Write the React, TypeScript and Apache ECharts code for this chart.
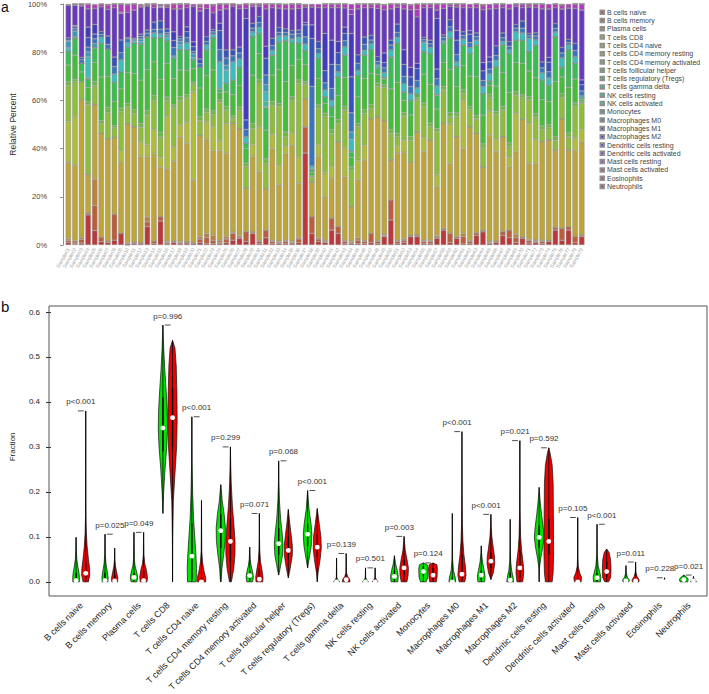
import React, { useEffect, useRef } from "react";
import * as echarts from "echarts";

// ---------- Panel a: CIBERSORT composition per sample (percent) ----------
const cellTypes = [
  "B cells naive", "B cells memory", "Plasma cells", "T cells CD8", "T cells CD4 naive",
  "T cells CD4 memory resting", "T cells CD4 memory activated", "T cells follicular helper",
  "T cells regulatory (Tregs)", "T cells gamma delta", "NK cells resting", "NK cells activated",
  "Monocytes", "Macrophages M0", "Macrophages M1", "Macrophages M2", "Dendritic cells resting",
  "Dendritic cells activated", "Mast cells resting", "Mast cells activated", "Eosinophils", "Neutrophils",
];

const sampleNames = Array.from({ length: 79 }, (_, i) => `Sample${String(i + 1).padStart(2, "0")}`);

const bCellsNaive = [1.0,0.3,0.8,12.5,6,1.4,1,2,4.8,0, 0.5,0.5,7.6,0.5,10,0.5,1,0.5,0.8,0.5, 1,0.5,0.5,0.5,1,2,2.8,1.5,4.8,0.5, 3,0.5,0.5,0.5,0.5,1,38.3,4.8,1.5,1, 6.2,4.8,0.5,0.5,0.5,0.5,1,0.5,3.5,10.4, 0.5,1,3.5,3.5,0.5,0.5,2.8,6.2,1,2.8, 0.5,0.5,4,5.5,0.5,1,4,3,1,2.8, 0.8,1,0.5,1.4,6.2,2,6.2,1,3.5];
const bCellsMemory = [0.8,0.5,1.5,0.6,10.4,1.8,0.5,10.8,0,0.5, 0.5,0.5,2,1,1.8,0.5,0.5,0.5,0.5,0.3, 1.5,2.5,1.5,0.5,1.5,2.8,0.5,4,0.5,1, 3.2,1,0.5,1,0.5,1.5,10.8,7,1,0.5, 4.8,2.8,1,0.5,1.5,1,3.8,1,0.5,8.3, 1,1,0.5,0.5,1,1,0.5,0.5,3.8,0.5, 3,1,1,0.5,0.5,0.5,1.5,3.2,2,0.5, 1,0.5,1,0.5,1,4.9,1.4,2.5,0.5];
const plasmaCells = [0.7,1.0,0.9,0,11,0,0,0,0,0.5, 0,0,2,0,0,0.5,0,0.5,0,0, 1,1.8,2,1,1,0.5,0.5,0,0,0.5, 0,0.5,0.5,0.5,0.5,0.5,0,0,0.5,0.5, 0,0,0.5,0.5,1,0.5,0,0.5,0.5,0, 0.5,0.5,0,0,0.5,0.5,0.5,0,0,0, 1.3,0.5,0,0,0.5,0,0,0,1.5,0, 0.5,0.5,0.5,0,0,0,0,0,0];
const tCellsCD8 = [31.8,31.4,57.2,16.2,31.1,43.1,42.8,31.8,29.5,49.5, 48.1,35.9,25.1,36.5,20.7,30.3,33.1,43.5,40.9,26.2, 42.1,38.8,35.4,37.4,34.5,45.2,44.6,18,31.4,28.4, 17.3,38,23.4,36,40,22.6,11.8,14.5,33.7,18, 16.7,35.3,26.4,14.5,24,33.3,47.8,51.2,47.4,16.6, 36,36,30.6,43,36.7,41.6,20.4,43.8,29.1,41.7, 35.2,47.1,41.3,26.5,44.1,37.2,39.5,26.3,34.2,48.6, 31.6,31.9,40.9,41.7,32.2,45.7,31.8,35.9,38.9];
const tCellsCD4Naive = [16.9,20,0,0,0,0,0,0,5,0, 0,6,5,10,4,22,6,5,8.8,36.6, 0,7.4,10,4,12.5,0,0,0,5,18.6, 0,6,8,3,5,11,0,0,5,10, 5,0,12,0,8,6,0,0,0,0, 3,5,0,0,6,0,5,0,16.6,0, 20,0,0,0,10,5,0,4,16,0, 16.6,10,0,0,0,0,0,5,5];
const tCellsCD4MemResting = [14.9,14.6,7.4,29.1,7.9,4.2,11,4,16,6.9, 5.5,6.2,12.2,12,8.5,6.5,16.1,10,10,3, 6.3,4,5,16.1,5.5,2,7.6,9,6.7,18, 10.4,12,24.5,4,13.5,30.4,6.2,2,15,23.2, 13.6,7.6,15.6,15,14.1,13.3,4.1,12.5,13.8,11, 4,10,9,13.2,12.7,5.5,18,13.8,2.8,8.3, 2.9,7,6,8,5.5,10.3,11,4.3,7.5,9, 9.7,9,5,5,4,8.9,5.5,13,11];
const tCellsCD4MemActivated = [1.5,1,0,1,1.6,1.2,2,1,1.5,1.5, 1.5,1.6,2,2,2,1.5,1.2,1.8,1.5,1, 1.5,1.3,1.5,1,1.5,1,1.4,1.5,2,1.6, 2,1.5,1.2,2,1.5,1.5,1,0.5,1.4,1.5, 1.5,1.7,1.5,1.5,1.2,1.5,1.8,1.5,1,1.5, 1.3,1.5,1.6,1,1.5,1.5,1.2,1.5,1.8,1.5, 1.5,1.4,1.5,1.7,1.5,1.3,1.5,1.6,1.5,1.2, 1.5,1.8,1.5,1.4,1.5,1.5,1.6,1.5,0.5];
const tCellsFollicular = [7,10,4,6,8,18,13,10,8,13, 15,18,17,14,22,14,11,11,10,5.5, 12,14,17,3,6,9,9,6,20,11, 12,11,14,21,13,8.5,7,1.5,11,4, 5.5,10,12,4,11,13,13,3.5,2.5,17, 21,5,9,1.5,12,16,8,10,18,11, 10,12.5,16,12,3.5,10.5,14,21,12,13, 10.5,15,11,9.5,23,7,19,10,1];
const tCellsTregs = [5.6,7,3.6,3.5,6,14,11.3,7.9,7.1,10.4, 12.6,15,13.5,10,17.4,9.5,8.3,8.5,8.5,3.7, 8.6,10.5,13.5,1.5,3.6,6,7.5,2.2,16,8.3, 9.5,8.3,11.4,17,9.5,6.7,5.9,1,8.3,2.8, 4.1,7.8,9.3,2.2,8.9,9.7,9.8,2.6,0.6,13.2, 16.2,3.5,6.1,0,9.3,12.9,5.8,7.9,13,8.2, 8.6,9.4,13.2,9,2,8,11.5,16.2,9.3,9.6, 8,13.3,8.1,6.8,18.5,4,15.6,6.5,0.5];
const tCellsGammaDelta = [0,0,0,0,0.3,0,0,0,0,0, 0,0,0,0,0,0,0,0,0,0, 0,0,0,0.4,0,0,0,0,0,0, 0.5,0,0,0,0,0,0,0,0,0, 0,0,0,0.3,0,0,0,0,0,0, 0,0,0,0,0,0,0.3,0,0,0, 0,0,0,0,0,0,0,0,0,0, 0,0,0,0,0,0,0,0,0];
const nkResting = [0,0,0,0.5,0,0,0,0,0,0, 0,0,0,0,0,0,0,0,0,0, 0,0,0,0,0,0,0,0,0,0, 2,0,0,0,0,0,0,0.4,0,0, 0,0,0,0,0,0,0,0,0,0, 0,0,0,0,0,0,0,0,0,0, 0,0,0,0,0,0,0,0,0,0, 0,0,0,0,0,0,0,0,0];
const nkActivated = [1.5,0.5,0,8.7,0,2.5,0,3.5,4.9,2, 0.8,1,0,2,1.5,1.5,1,2,3,1, 0,2,1.4,11,5.5,7.5,3.5,2.8,2,2.5, 4,2,2.5,2,1.5,2.5,2.7,1.2,2,2.8, 2.6,2,3.5,5,2,2,2.5,1.4,2,3, 2.5,3.5,2.8,2.5,4,2.5,3.5,1,2.7,2, 2.5,2.5,2,3,2.9,2.7,1.5,1.5,3.5,3, 5.6,2.5,3,3,2,4,2,2.8,1];
const monocytes = [2.7,2.5,0,2,1.5,0,0,0,0,0, 0.6,1.1,0,0,0,1,0,1.5,0,1.5, 0,0,0,0,2,0,0,0,0,0, 3,0,0,0,0,0,0,0,0,0, 0,0,0,3,0,0,0,0,0,0, 0,0,0,0,0,0,0,0,0,0, 0,0,0,0,0,0,0,0,0,0, 0,0,0,0,0,0,0,0,0];
const macrophagesM0 = [0.5,1,1.5,2,2,1.2,2,3,3,1.5, 0.7,1.1,1.5,1.5,2,1,3.5,1,2,1, 1.5,1.5,1,5,3,2.5,2.5,3,1.5,2, 4,2,1.5,1.5,2,1.5,3,33.2,2,3, 5,3,2.5,8,3,2.5,1.5,1.5,2,2, 2,3,3,3,1,1.5,3,1.5,2,3, 1.5,2,1.5,2.5,2,2,1.5,1.5,1.5,2, 1,1.5,2,2.5,1.5,2,1,2.5,2];
const macrophagesM1 = [1,0.8,1,4,2,1.2,3.5,4,5.3,0.6, 0,1,1.3,3,3.5,1.5,3,1,2.5,2, 2,2,1,8,3.4,2.5,2.5,3.9,2,2.5, 7,3,2,1.5,1.5,1.5,5,20,3,5, 10,5,3,15,3.5,3,2,2,2.2,2, 3.5,5,4,5,1,1.5,4,1,3,6, 1.5,3.5,1.5,4,3,4,2,1.9,1.5,3, 1,1.3,2.5,4,2,2.3,1.3,3,2.6];
const macrophagesM2 = [0,0.5,0,4.3,4,0,0,0,0,0, 0,0,0,0,0,0,3.5,0,2,2, 0,0,0,3,0,0,0,42.1,0,0, 5,0,0,0,0,0,1,5.6,0,15.5, 10,4.6,2.6,18,0,0,0,0,4,0, 0,6,4,2.2,0,0,21,0,0,4, 0,1.5,0,3.5,2,0,0,0,0,0, 0,0,0,2,0,0,0,0,2];
const dendriticResting = [13.4,8.4,21.3,7.6,6.7,10.3,11.1,20.5,11,10.4, 11.7,11.3,10,6,5.5,9,9.5,11.5,8,14.7, 20,11.7,7,5.5,17,18,16,4.2,7,4.2, 15.6,12.7,8,8.3,9,9,6.3,7.5,14,10.7, 13.5,14.1,8,8,19,12.2,11.5,20,18,13, 7,17,24,19.3,12.3,13.5,3.5,11,5.5,9.8, 10,9.5,10.5,22,20,15.5,10.5,13.6,7.5,5.5, 11,10.5,22,20,6.6,16,13,14.5,29];
const dendriticActivated = [0,0.3,0,0,0,0,0,0,0.5,0, 0,0,0,0,0.5,0,0,0,0,0, 0,0,0,0,0,0,0,0,0,0, 0,0,0,0,0,0,0,0,0,0, 0,0,0,2,0,0,0,0,0,0, 0,0,0,0,0,0,0,0,0,0, 0,0,0,0,0,0,0,0,0,0, 0,0,0,0,0,0,0,0,0];
const mastResting = [0.3,0,0.8,1.8,1.5,0,1.8,1.5,3.4,3.2, 2.5,0,0,1.5,0.6,1,0,2,1.5,1, 1.5,1.8,3.2,2.5,2,1,1.5,1.8,1,1, 2,1.5,1.7,1.7,2,1.8,1,1.2,1.5,1.5, 1.5,1.5,1.6,2.3,2,1.5,1.5,1.8,2,2, 1.3,2,2,3,1.5,1.5,2.5,1.8,1,1.2, 1.5,1.5,1.5,2,2,1.8,1.5,2,1,1.5, 1.2,1.5,2,2.1,1.5,1.7,1.7,1.8,2.5];
const mastActivated = [0.3,0.2,0,0.2,0.3,1.1,0,0,0,0, 0,0.8,0.8,0,0,0,2,0,0,0, 1,0,0,0,0,0,0,0,0,0, 0,0,0,0,0,0,0,0,0,0, 0,0,0,0,0,0,0,0,0,0, 0,0,0,2.3,0,0,0,0,0,0, 0,0,0,0,0,0,0,0,0,0, 0,0,0,0,0,0,0,0,0];
const eosinophils = [0,0,0,0,0,0,0,0,0,0.3, 0,0,0,0,0,0,0,0,0,0, 0,0,0,0,0,0,0,0,0,0, 0,0,0,0.3,0,0,0,0,0,0, 0,0,0,0,0,0,0,0,0,0, 0,0,0,0,0,0,0,0,0,0, 0,0,0,0,0,0,0,0,0,0, 0,0,0,0,0,0,0,0,0];
const neutrophils = [0,0,0,0,0,0,0.4,0,0,0, 0,0.4,0,0,0.4,0.4,0,0,0,0, 0.4,0,0.4,0,0,0,0.4,0,0,0, 0,0,0,0,0,0,0.4,0,0,0, 0,0,0,0,0,0,0,0,0.4,0, 0,0,0.4,0,0,0,0,0,0,0, 0,0,0,0.4,0,0,0,0,0,0, 0,0,0,0,0,0.4,0,0,0];

const compositions = [
  bCellsNaive, bCellsMemory, plasmaCells, tCellsCD8, tCellsCD4Naive, tCellsCD4MemResting,
  tCellsCD4MemActivated, tCellsFollicular, tCellsTregs, tCellsGammaDelta, nkResting, nkActivated,
  monocytes, macrophagesM0, macrophagesM1, macrophagesM2, dendriticResting, dendriticActivated,
  mastResting, mastActivated, eosinophils, neutrophils,
];

// ---------- Panel b: violin profiles [fraction, half width] ----------
const normalViolins = [
  [[0,0.34],[0.01,0.35],[0.02,0.3],[0.035,0.18],[0.05,0.08],[0.07,0.03],[0.099,0]],
  [[0,0.3],[0.01,0.32],[0.025,0.22],[0.04,0.1],[0.06,0.03],[0.106,0]],
  [[0,0.3],[0.01,0.38],[0.02,0.3],[0.035,0.12],[0.05,0.04],[0.11,0]],
  [[0.152,0],[0.2,0.08],[0.25,0.22],[0.3,0.4],[0.34,0.48],[0.38,0.45],[0.42,0.35],[0.47,0.2],[0.52,0.08],[0.571,0]],
  [[0,0.45],[0.03,0.48],[0.06,0.42],[0.1,0.3],[0.14,0.18],[0.2,0.08],[0.26,0.03],[0.367,0]],
  [[0,0.03],[0.03,0.12],[0.06,0.3],[0.09,0.45],[0.12,0.48],[0.15,0.35],[0.18,0.15],[0.216,0]],
  [[0,0.3],[0.01,0.38],[0.02,0.32],[0.035,0.15],[0.05,0.05],[0.077,0]],
  [[0.015,0],[0.03,0.15],[0.06,0.4],[0.085,0.45],[0.11,0.35],[0.14,0.2],[0.18,0.08],[0.22,0.02],[0.269,0]],
  [[0.031,0],[0.05,0.15],[0.08,0.38],[0.105,0.45],[0.13,0.35],[0.16,0.15],[0.203,0]],
  [[0,0.3],[0.004,0.15],[0.01,0.02],[0.053,0]],
  [[0,0.3],[0.004,0.15],[0.01,0.02],[0.031,0]],
  [[0,0.35],[0.012,0.4],[0.025,0.3],[0.04,0.12],[0.058,0]],
  [[0,0.3],[0.01,0.45],[0.03,0.48],[0.038,0.4],[0.042,0]],
  [[0,0.35],[0.01,0.3],[0.025,0.12],[0.05,0.03],[0.1,0.005],[0.152,0]],
  [[0,0.35],[0.012,0.4],[0.025,0.3],[0.045,0.12],[0.065,0.03],[0.08,0]],
  [[0,0.35],[0.01,0.3],[0.025,0.15],[0.045,0.05],[0.08,0.01],[0.139,0]],
  [[0,0],[0.03,0.03],[0.05,0.15],[0.08,0.4],[0.1,0.5],[0.12,0.42],[0.15,0.25],[0.18,0.1],[0.21,0]],
  [[0,0.2],[0.002,0]],
  [[0,0.35],[0.01,0.4],[0.02,0.3],[0.035,0.12],[0.06,0.03],[0.128,0]],
  [[0,0.3],[0.004,0.35],[0.01,0.15],[0.02,0.03],[0.036,0]],
  [[0,0.12],[0.004,0]],
  [[0,0.4],[0.006,0.45],[0.01,0.3],[0.015,0]],
];
const tumorViolins = [
  [[0,0.28],[0.015,0.42],[0.03,0.4],[0.05,0.28],[0.08,0.14],[0.11,0.06],[0.15,0.02],[0.25,0.005],[0.38,0]],
  [[0,0.3],[0.008,0.33],[0.02,0.22],[0.035,0.08],[0.05,0.02],[0.075,0]],
  [[0,0.35],[0.01,0.4],[0.025,0.3],[0.04,0.12],[0.06,0.03],[0.11,0]],
  [[0,0],[0.1,0.02],[0.18,0.08],[0.24,0.25],[0.3,0.42],[0.36,0.48],[0.42,0.45],[0.48,0.38],[0.52,0.25],[0.537,0]],
  [[0,0.45],[0.01,0.42],[0.025,0.25],[0.045,0.1],[0.07,0.03],[0.181,0]],
  [[0,0.1],[0.03,0.35],[0.06,0.47],[0.09,0.48],[0.13,0.35],[0.17,0.2],[0.22,0.08],[0.26,0.03],[0.3,0]],
  [[0,0.35],[0.01,0.38],[0.025,0.28],[0.045,0.12],[0.07,0.04],[0.1,0.01],[0.152,0]],
  [[0.009,0],[0.03,0.2],[0.06,0.42],[0.08,0.42],[0.1,0.32],[0.13,0.15],[0.161,0]],
  [[0,0],[0.02,0.08],[0.05,0.3],[0.075,0.42],[0.1,0.38],[0.13,0.2],[0.163,0]],
  [[0,0.4],[0.006,0.35],[0.012,0.15],[0.02,0.03],[0.063,0]],
  [[0,0.3],[0.004,0.15],[0.01,0.02],[0.031,0]],
  [[0,0.3],[0.015,0.42],[0.03,0.45],[0.05,0.3],[0.07,0.12],[0.101,0]],
  [[0,0.35],[0.01,0.42],[0.03,0.45],[0.038,0.4],[0.042,0]],
  [[0,0.3],[0.015,0.42],[0.035,0.35],[0.06,0.2],[0.09,0.1],[0.13,0.04],[0.2,0.01],[0.334,0]],
  [[0.005,0],[0.02,0.25],[0.04,0.4],[0.055,0.38],[0.075,0.25],[0.1,0.1],[0.12,0.04],[0.15,0]],
  [[0,0.3],[0.02,0.4],[0.04,0.35],[0.07,0.18],[0.1,0.08],[0.15,0.03],[0.2,0.01],[0.314,0]],
  [[0,0.35],[0.02,0.45],[0.06,0.5],[0.15,0.48],[0.22,0.45],[0.26,0.35],[0.285,0.15],[0.298,0]],
  [[0,0.35],[0.01,0.4],[0.02,0.2],[0.035,0.05],[0.06,0.01],[0.143,0]],
  [[0,0.2],[0.01,0.42],[0.03,0.45],[0.05,0.4],[0.065,0.25],[0.073,0]],
  [[0,0.35],[0.005,0.35],[0.012,0.15],[0.022,0.03],[0.044,0]],
  [[0,0.15],[0.002,0.05],[0.009,0]],
  [[0,0.3],[0.004,0.2],[0.008,0.03],[0.012,0]],
];
// [q1, median, q3]
const normalStats = [
  [0,0.003,0.02],[0,0.003,0.02],[0.003,0.01,0.02],[0.29,0.342,0.41],[0.005,0.057,0.13],
  [0.075,0.114,0.15],[0.003,0.014,0.025],[0.06,0.085,0.12],[0.08,0.106,0.13],[0,0,0.002],
  [0,0,0],[0.003,0.012,0.025],[0.012,0.023,0.035],[0,0,0.01],[0.004,0.015,0.025],
  [0,0.004,0.02],[0.075,0.099,0.125],[0,0,0],[0.002,0.009,0.02],[0,0.002,0.005],[0,0,0],[0,0.005,0.01],
];
const tumorStats = [
  [0.005,0.019,0.045],[0,0.002,0.015],[0,0.003,0.025],[0.3,0.365,0.43],[0,0,0.01],
  [0.045,0.09,0.14],[0,0.006,0.03],[0.05,0.07,0.1],[0.055,0.077,0.105],[0,0.005,0.01],
  [0,0,0],[0.015,0.031,0.05],[0.004,0.015,0.03],[0.004,0.017,0.06],[0.03,0.046,0.065],
  [0.01,0.031,0.07],[0.06,0.09,0.14],[0,0,0.005],[0.01,0.023,0.045],[0,0.002,0.006],[0,0,0.002],[0,0.002,0.005],
];
const pLabels = [
  "p<0.001","p=0.025","p=0.049","p=0.996","p<0.001","p=0.299","p=0.071","p=0.068","p<0.001","p=0.139",
  "p=0.501","p=0.003","p=0.124","p<0.001","p<0.001","p=0.021","p=0.592","p=0.105","p<0.001","p=0.011",
  "p=0.228","p=0.021",
];

const FONT = "'Liberation Sans', Arial, Helvetica, sans-serif";
const NORMAL_COLOR = "#00e400";
const TUMOR_COLOR = "#f00000";

function hsvHex(h: number, s: number, v: number): string {
  const i = Math.floor(h * 6);
  const f = h * 6 - i;
  const p = v * (1 - s);
  const q = v * (1 - f * s);
  const t = v * (1 - (1 - f) * s);
  let r = 0, g = 0, b = 0;
  switch (i % 6) {
    case 0: r = v; g = t; b = p; break;
    case 1: r = q; g = v; b = p; break;
    case 2: r = p; g = v; b = t; break;
    case 3: r = p; g = q; b = v; break;
    case 4: r = t; g = p; b = v; break;
    default: r = v; g = p; b = q; break;
  }
  const hx = (x: number) => Math.round(x * 255).toString(16).padStart(2, "0");
  return "#" + hx(r) + hx(g) + hx(b);
}

export default function App() {
  const ref = useRef<HTMLDivElement>(null);

  useEffect(() => {
    document.body.style.margin = "0";
    if (!ref.current) return;
    const chart = echarts.init(ref.current, undefined, { renderer: "svg" });

    const palette = cellTypes.map((_, k) => hsvHex(k / cellTypes.length, 0.7, 0.74));
    const totals = sampleNames.map((_, i) => compositions.reduce((s, arr) => s + arr[i], 0));

    const barSeries = cellTypes.map((name, k) => ({
      name,
      type: "bar",
      stack: "cibersort",
      xAxisIndex: 0,
      yAxisIndex: 0,
      barCategoryGap: "17%",
      itemStyle: { color: palette[k], borderColor: "#8f8f8f", borderWidth: 0.5 },
      emphasis: { disabled: true },
      data: compositions[k].map((v, i) => (v / totals[i]) * 100),
    }));

    const top = (prof: number[][]) => prof[prof.length - 1][0];
    const boxHalf = 0.07;

    const violinData: number[][] = [];
    cellTypes.forEach((_, k) => {
      violinData.push([3 * k, normalStats[k][1], k, 0]);
      violinData.push([3 * k + 1, tumorStats[k][1], k, 1]);
    });

    const bracketData = cellTypes.map((_, k) => [
      3 * k + 0.5,
      Math.max(top(normalViolins[k]), top(tumorViolins[k])),
      k,
    ]);

    const option: any = {
      animation: false,
      textStyle: { fontFamily: FONT },
      title: [
        { text: "a", left: 1, top: 0, padding: 0, textStyle: { fontSize: 14, fontWeight: "normal", color: "#111", fontFamily: FONT } },
        { text: "b", left: 1, top: 299, padding: 0, textStyle: { fontSize: 15, fontWeight: "normal", color: "#111", fontFamily: FONT } },
      ],
      legend: {
        data: cellTypes,
        orient: "vertical",
        left: 599.5,
        top: 8.2,
        padding: 0,
        itemWidth: 3.5,
        itemHeight: 3.5,
        itemGap: 0.3,
        icon: "rect",
        selectedMode: false,
        textStyle: { fontSize: 7, color: "#444", lineHeight: 8, padding: [0, 0, 0, -2], fontFamily: FONT },
      },
      grid: [
        { left: 57, top: 4, width: 528, height: 241 },
        { left: 49, top: 306, width: 658, height: 290, show: true, borderColor: "#555", borderWidth: 1, backgroundColor: "transparent" },
        { left: 49, top: 312, width: 658, height: 274 },
      ],
      xAxis: [
        {
          gridIndex: 0,
          type: "category",
          data: sampleNames,
          axisLine: { show: false },
          axisTick: { show: false },
          axisLabel: { interval: 0, rotate: 60, fontSize: 5, color: "#a8a8a8", margin: 3 },
        },
        {
          gridIndex: 2,
          type: "value",
          min: -2.6,
          max: 65.4,
          axisLine: { show: false, onZero: false },
          axisTick: { show: false },
          splitLine: { show: false },
          axisLabel: {
            customValues: cellTypes.map((_, k) => 3 * k + 0.55),
            rotate: 45,
            fontSize: 9,
            color: "#222",
            margin: 22,
            formatter: (v: number) => cellTypes[Math.round((v - 0.55) / 3)] ?? "",
          },
        },
      ],
      yAxis: [
        {
          gridIndex: 0,
          type: "value",
          min: 0,
          max: 100,
          interval: 20,
          offset: 2,
          axisLine: { show: true, onZero: false, lineStyle: { color: "#8c8c8c", width: 1 } },
          axisTick: { show: true, length: 3, lineStyle: { color: "#8c8c8c" } },
          axisLabel: { formatter: (v: number) => `${v}%`, fontSize: 7.5, color: "#444", margin: 16 },
          splitLine: { show: false },
          name: "Relative Percent",
          nameLocation: "middle",
          nameGap: 40,
          nameTextStyle: { fontSize: 8.5, color: "#333" },
        },
        {
          gridIndex: 2,
          type: "value",
          min: 0,
          max: 0.6,
          interval: 0.1,
          axisLine: { show: false, onZero: false },
          axisTick: { show: true, length: 5, inside: false, lineStyle: { color: "#333" } },
          axisLabel: { formatter: (v: number) => v.toFixed(1), fontSize: 8, color: "#222", margin: 11 },
          splitLine: { show: false },
          name: "Fraction",
          nameLocation: "middle",
          nameGap: 35,
          nameTextStyle: { fontSize: 8, color: "#222" },
        },
      ],
      series: [
        ...barSeries,
        {
          type: "custom",
          name: "violins",
          xAxisIndex: 1,
          yAxisIndex: 1,
          encode: { x: 0, y: 1 },
          data: violinData,
          silent: true,
          renderItem: (_params: any, api: any) => {
            const x = api.value(0) as number;
            const k = api.value(2) as number;
            const g = api.value(3) as number;
            const prof = g === 0 ? normalViolins[k] : tumorViolins[k];
            const stats = g === 0 ? normalStats[k] : tumorStats[k];
            const leftPts = prof.map(([y, w]) => api.coord([x - w, y]));
            const rightPts = prof.slice().reverse().map(([y, w]) => api.coord([x + w, y]));
            const bottom = api.coord([x, prof[0][0]]);
            const topPt = api.coord([x, top(prof)]);
            const q3p = api.coord([x - boxHalf, stats[2]]);
            const q1p = api.coord([x + boxHalf, stats[0]]);
            const med = api.coord([x, stats[1]]);
            return {
              type: "group",
              children: [
                { type: "polygon", shape: { points: leftPts.concat(rightPts) }, style: { fill: g === 0 ? NORMAL_COLOR : TUMOR_COLOR, stroke: "#111", lineWidth: 0.7 } },
                { type: "line", shape: { x1: bottom[0], y1: bottom[1], x2: topPt[0], y2: topPt[1] }, style: { stroke: "#000", lineWidth: 0.8 } },
                { type: "rect", shape: { x: q3p[0], y: q3p[1], width: q1p[0] - q3p[0], height: Math.max(q1p[1] - q3p[1], 0.6) }, style: { fill: "#000" } },
                { type: "circle", shape: { cx: med[0], cy: med[1], r: 2.4 }, style: { fill: "#fff" } },
              ],
            };
          },
        },
        {
          type: "custom",
          name: "pvalues",
          xAxisIndex: 1,
          yAxisIndex: 1,
          encode: { x: 0, y: 1 },
          data: bracketData,
          silent: true,
          renderItem: (_params: any, api: any) => {
            const x = api.value(0) as number;
            const mx = api.value(1) as number;
            const k = api.value(2) as number;
            const a = api.coord([x - 0.3, mx]);
            const b = api.coord([x + 0.3, mx]);
            const t = api.coord([x, mx + 0.02]);
            return {
              type: "group",
              children: [
                { type: "line", shape: { x1: a[0], y1: a[1], x2: b[0], y2: b[1] }, style: { stroke: "#222", lineWidth: 0.8 } },
                { type: "text", style: { text: pLabels[k], x: t[0], y: t[1], align: "center", verticalAlign: "middle", fontSize: 8, fill: "#333", fontFamily: FONT } },
              ],
            };
          },
        },
      ],
    };

    chart.setOption(option);
    return () => chart.dispose();
  }, []);

  return <div ref={ref} style={{ width: 709, height: 694 }} />;
}
